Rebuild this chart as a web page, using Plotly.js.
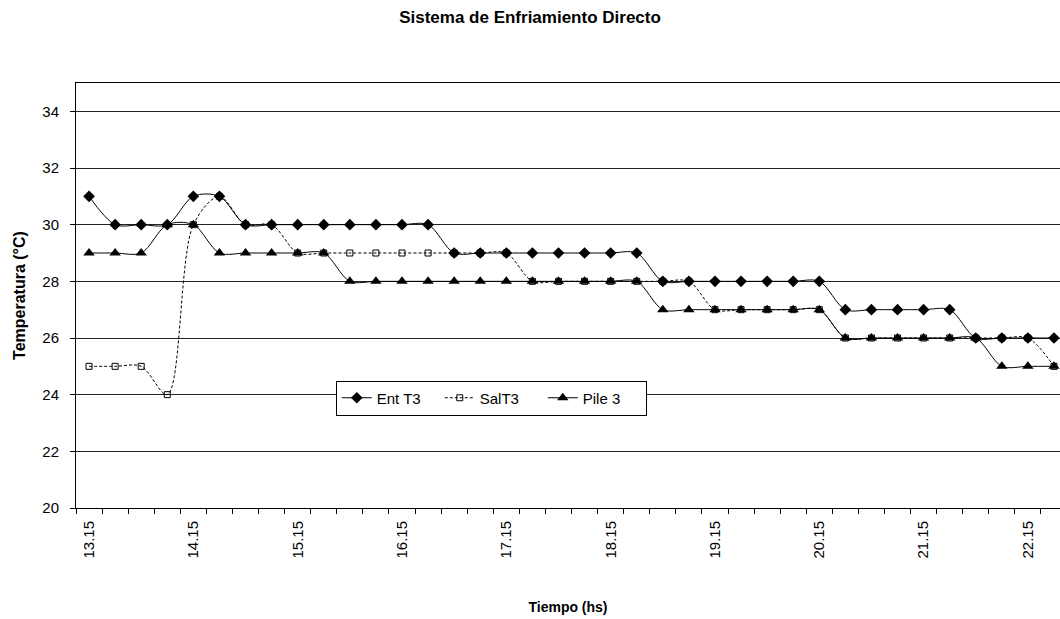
<!DOCTYPE html>
<html>
<head>
<meta charset="utf-8">
<script src="https://cdn.plot.ly/plotly-3.0.1.min.js"></script>
<style>html,body{margin:0;padding:0;background:#fff;}#chart{width:1060px;height:619px;}</style>
</head>
<body>
<div id="chart"></div>
<script>
// Categories: time every 15 minutes from 13.15 to 22.30
const times = ["13.15","13.30","13.45","14.00","14.15","14.30","14.45","15.00",
  "15.15","15.30","15.45","16.00","16.15","16.30","16.45","17.00",
  "17.15","17.30","17.45","18.00","18.15","18.30","18.45","19.00",
  "19.15","19.30","19.45","20.00","20.15","20.30","20.45","21.00",
  "21.15","21.30","21.45","22.00","22.15","22.30"];
const tickLabels = ["13.15","","","","14.15","","","","15.15","","","","16.15","","","",
  "17.15","","","","18.15","","","","19.15","","","","20.15","","","","21.15","","","","22.15",""];

const entT3 = [31,30,30,30,31,31,30,30,30,30,30,30,30,30,29,29,29,29,29,29,29,29,
  28,28,28,28,28,28,28,27,27,27,27,27,26,26,26,26];
const salT3 = [25,25,25,24,30,31,30,30,29,29,29,29,29,29,29,29,29,28,28,28,28,28,
  28,28,27,27,27,27,27,26,26,26,26,26,26,26,26,25];
const pile3 = [29,29,29,30,30,29,29,29,29,29,28,28,28,28,28,28,28,28,28,28,28,28,
  27,27,27,27,27,27,27,26,26,26,26,26,26,25,25,25];

const FONT = "Liberation Sans, Arial, sans-serif";

const traces = [
  {x: times, y: entT3, name: "Ent T3", type: "scatter", mode: "lines+markers",
   line: {color: "#000", width: 1, shape: "spline", smoothing: 0.9},
   marker: {symbol: "diamond", size: 9, color: "#000"}},
  {x: times, y: salT3, name: "SalT3", type: "scatter", mode: "lines+markers",
   line: {color: "#000", width: 1, shape: "spline", smoothing: 0.9, dash: "3px,2px"},
   marker: {symbol: "square-open", size: 6, color: "#000", line: {color: "#000", width: 1}}},
  {x: times, y: pile3, name: "Pile 3", type: "scatter", mode: "lines+markers",
   line: {color: "#000", width: 1, shape: "spline", smoothing: 0.9},
   marker: {symbol: "triangle-up", size: 10, color: "#000"}}
];

const layout = {
  width: 1060, height: 619,
  margin: {l: 76, r: 0, t: 83, b: 111},
  paper_bgcolor: "#fff", plot_bgcolor: "#fff",
  font: {family: FONT, color: "#000", size: 14},
  title: {text: "<b>Sistema de Enfriamiento Directo</b>", x: 0.5, xanchor: "center",
          y: 1 - 17/619, yanchor: "middle", font: {family: FONT, size: 17, color: "#000"}},
  showlegend: true,
  legend: {orientation: "h", x: 0.264, xanchor: "left", y: 0.30, yanchor: "top",
           bgcolor: "#fff", bordercolor: "#000", borderwidth: 1,
           entrywidth: 58, entrywidthmode: "pixels",
           font: {family: FONT, size: 15, color: "#000"}, itemclick: false},
  xaxis: {
    type: "category", range: [-0.5, 37.23],
    tickmode: "array", tickvals: times, ticktext: tickLabels,
    tickson: "boundaries", ticks: "outside", ticklen: 5, tickcolor: "#000",
    tickangle: -90, tickfont: {family: FONT, size: 15, color: "#000"}, ticklabelstandoff: 6,
    showline: true, linecolor: "#000", linewidth: 1, mirror: true,
    showgrid: false, zeroline: false,
    title: {text: "<b>Tiempo (hs)</b>", standoff: 44, font: {family: FONT, size: 14, color: "#000"}}
  },
  yaxis: {
    range: [20, 35], tickmode: "array", tickvals: [20,22,24,26,28,30,32,34],
    ticks: "outside", ticklen: 5, tickcolor: "#000",
    tickfont: {family: FONT, size: 15, color: "#000"}, ticklabelstandoff: 8,
    showline: true, linecolor: "#000", linewidth: 1,
    showgrid: true, gridcolor: "#222", gridwidth: 1, zeroline: false,
    title: {text: "<b>Temperatura (°C)</b>", standoff: 12, font: {family: FONT, size: 16, color: "#000"}}
  }
};

Plotly.newPlot("chart", traces, layout, {displayModeBar: false, staticPlot: true});
</script>
</body>
</html>
